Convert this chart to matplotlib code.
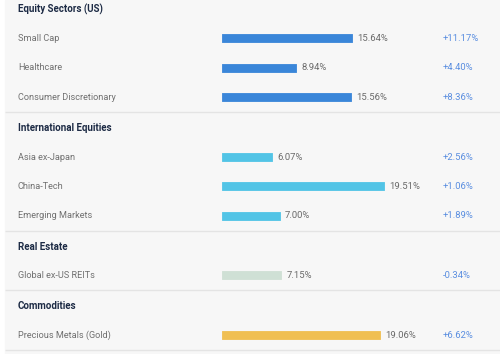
import matplotlib.pyplot as plt

# data
groups = ["Equity Sectors (US)", "International Equities", "Real Estate", "Commodities"]
group_items = [
    ["Small Cap", "Healthcare", "Consumer Discretionary"],
    ["Asia ex-Japan", "China-Tech", "Emerging Markets"],
    ["Global ex-US REITs"],
    ["Precious Metals (Gold)"],
]
group_values = [
    [15.64, 8.94, 15.56],
    [6.07, 19.51, 7.00],
    [7.15],
    [19.06],
]
group_changes = [
    [11.17, 4.40, 8.36],
    [2.56, 1.06, 1.89],
    [-0.34],
    [6.62],
]
group_colors = ["#3a86d9", "#52c4e6", "#cfe0d5", "#f0bf52"]

W, H = 500, 354
BAR_X0 = 222       # pixel where bars start
PX_PER_PCT = 8.3   # pixels per percent


def px(x):
    """ pixel x -> data x (percent units) """
    return (x - BAR_X0) / PX_PER_PCT


fig = plt.figure(figsize=(W / 100, H / 100), dpi=100)
fig.patch.set_facecolor("white")
ax = fig.add_axes([0, 0, 1, 1])
ax.set_xlim(px(0), px(W))
ax.set_ylim(H, 0)
ax.axis("off")

ax.axvspan(px(5), px(W), color="#f7f7f7", zorder=0)

font = "Roboto"
y = 9
for g, name in enumerate(groups):
    ax.text(px(18), y + 0.5, name, fontsize=7.0, fontweight="bold", color="#1d2b45",
            va="center", ha="left", family=font)
    row_y = y + 29
    for i, item in enumerate(group_items[g]):
        val = group_values[g][i]
        chg = group_changes[g][i]
        ax.text(px(18), row_y + 0.5, item, fontsize=6.6, color="#707070",
                va="center", ha="left", family=font)
        ax.barh(row_y, val, height=8, left=0, color=group_colors[g],
                edgecolor=group_colors[g], linewidth=0.6, joinstyle="round", zorder=2)
        ax.text(val + px(BAR_X0 + 5), row_y + 0.5, f"{val:.2f}%", fontsize=6.8,
                color="#6a6a6a", va="center", ha="left", family=font)
        ax.text(px(443), row_y + 0.5, f"{chg:+.2f}%", fontsize=6.8, color="#5a8ee0",
                va="center", ha="left", family=font)
        last = row_y
        row_y += 29.5
    sep = last + 15
    ax.hlines(sep, px(5), px(W), color="#e4e4e4", linewidth=1, zorder=1)
    y = sep + 15.5

fig.savefig("out.png", dpi=100, facecolor=fig.get_facecolor())
